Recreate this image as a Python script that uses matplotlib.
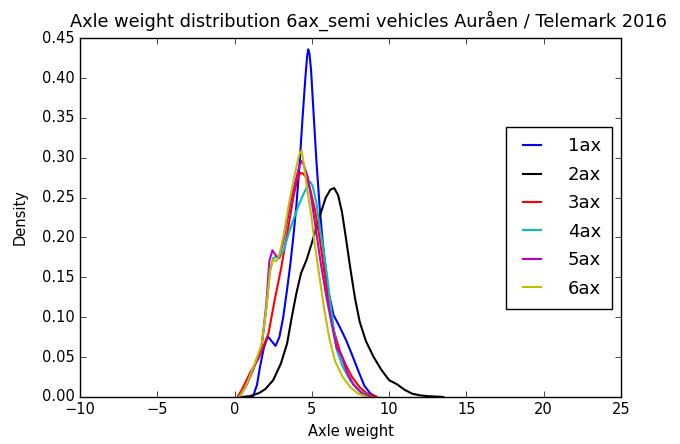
import matplotlib
matplotlib.use("Agg")
import matplotlib.pyplot as plt

# Density curves (axle weight vs density)
labels = ['1ax', '2ax', '3ax', '4ax', '5ax', '6ax']
colors = ['b', 'k', 'r', 'c', 'm', 'y']

x_1ax = [1.0, 1.2, 1.45, 1.65, 1.9, 2.1, 2.2, 2.4, 2.65, 2.9, 3.15, 3.4, 3.6, 3.8, 4.0, 4.2,
         4.4, 4.6, 4.7, 4.77, 4.85, 4.95, 5.1, 5.3, 5.5, 5.7, 5.9, 6.1, 6.4, 6.8, 7.2, 7.6, 8.0,
         8.4, 8.8, 9.2]
y_1ax = [0, 0.001, 0.015, 0.038, 0.062, 0.073, 0.075, 0.07, 0.064, 0.075, 0.1, 0.135, 0.165, 0.2,
         0.24, 0.29, 0.35, 0.405, 0.428, 0.436, 0.43, 0.41, 0.36, 0.295, 0.24, 0.195, 0.16, 0.13,
         0.103, 0.088, 0.072, 0.053, 0.033, 0.014, 0.004, 0.0]

x_2ax = [0.5, 1.0, 1.6, 2.0, 2.5, 3.0, 3.4, 3.7, 4.0, 4.3, 4.66, 5.0, 5.3, 5.6, 5.9, 6.2, 6.45,
         6.7, 6.95, 7.2, 7.5, 7.8, 8.1, 8.5, 9.0, 9.5, 10.0, 10.5, 11.0, 11.5, 12.0, 12.5, 13.5]
y_2ax = [0, 0.001, 0.005, 0.01, 0.021, 0.042, 0.067, 0.1, 0.13, 0.155, 0.172, 0.193, 0.213, 0.232,
         0.25, 0.26, 0.262, 0.253, 0.232, 0.2, 0.16, 0.123, 0.094, 0.07, 0.05, 0.034, 0.021, 0.016,
         0.009, 0.004, 0.002, 0.001, 0]

x_3ax = [0.2, 0.5, 1.0, 1.6, 2.2, 2.6, 3.0, 3.5, 3.8, 4.05, 4.25, 4.45, 4.65, 4.9, 5.2, 5.5, 5.75,
         6.0, 6.4, 6.8, 7.2, 7.6, 8.1, 8.6, 9.2]
y_3ax = [0, 0.01, 0.03, 0.05, 0.08, 0.122, 0.16, 0.215, 0.25, 0.272, 0.281, 0.28, 0.275, 0.26,
         0.235, 0.2, 0.165, 0.13, 0.085, 0.058, 0.04, 0.025, 0.012, 0.004, 0]

x_4ax = [0.3, 0.7, 1.2, 1.75, 2.05, 2.3, 2.5, 2.7, 2.9, 3.2, 3.5, 3.8, 4.1, 4.4, 4.65, 4.88, 5.05,
         5.3, 5.5, 5.75, 6.0, 6.2, 6.6, 7.0, 7.5, 8.1, 8.8]
y_4ax = [0, 0.012, 0.034, 0.063, 0.11, 0.158, 0.174, 0.176, 0.174, 0.185, 0.205, 0.222, 0.238,
         0.252, 0.262, 0.27, 0.265, 0.243, 0.215, 0.185, 0.15, 0.117, 0.06, 0.038, 0.02, 0.008, 0]

x_5ax = [0.3, 0.7, 1.2, 1.75, 2.05, 2.25, 2.45, 2.65, 2.85, 3.1, 3.4, 3.7, 4.0, 4.2, 4.35, 4.5,
         4.75, 5.0, 5.3, 5.6, 5.95, 6.3, 6.6, 6.9, 7.3, 7.7, 8.2, 8.8]
y_5ax = [0, 0.012, 0.034, 0.063, 0.115, 0.17, 0.184, 0.178, 0.174, 0.19, 0.22, 0.252, 0.275, 0.29,
         0.296, 0.29, 0.275, 0.245, 0.205, 0.165, 0.125, 0.09, 0.062, 0.052, 0.03, 0.015, 0.005, 0]

x_6ax = [0.3, 0.7, 1.2, 1.75, 2.05, 2.3, 2.5, 2.7, 2.9, 3.2, 3.5, 3.8, 4.05, 4.2, 4.34, 4.5, 4.7,
         4.95, 5.2, 5.5, 5.8, 6.15, 6.5, 7.0, 7.5, 8.0, 8.6]
y_6ax = [0, 0.012, 0.036, 0.066, 0.11, 0.16, 0.172, 0.17, 0.178, 0.205, 0.24, 0.27, 0.293, 0.305,
         0.309, 0.29, 0.26, 0.23, 0.19, 0.15, 0.11, 0.072, 0.045, 0.025, 0.012, 0.004, 0]

xs = [x_1ax, x_2ax, x_3ax, x_4ax, x_5ax, x_6ax]
ys = [y_1ax, y_2ax, y_3ax, y_4ax, y_5ax, y_6ax]

plt.style.use('classic')
fig = plt.figure(figsize=(6.8, 4.44), dpi=100, facecolor='white')
ax = fig.add_axes([0.1176, 0.106, 0.7956, 0.808])

for x, y, c, lab in zip(xs, ys, colors, labels):
    ax.plot(x, y, color=c, linewidth=1.5, label=lab)

ax.set_xlim(-10, 25)
ax.set_ylim(0, 0.45)
ax.set_xticks(range(-10, 30, 5))
ax.set_yticks([i * 0.05 for i in range(10)])
ax.tick_params(labelsize=10.5)
ax.set_xlabel('Axle weight', fontsize=10.5)
ax.set_ylabel('Density', fontsize=10.5, labelpad=10)
ax.set_title('Axle weight distribution 6ax_semi vehicles Auråen / Telemark 2016',
             fontsize=12.8, x=0.534, pad=8)

ax.legend(loc='center right', fontsize=13, handlelength=1.6, handletextpad=1.2,
          labelspacing=0.58, borderpad=0.6)

plt.savefig('out.png', dpi=100, facecolor='white')
